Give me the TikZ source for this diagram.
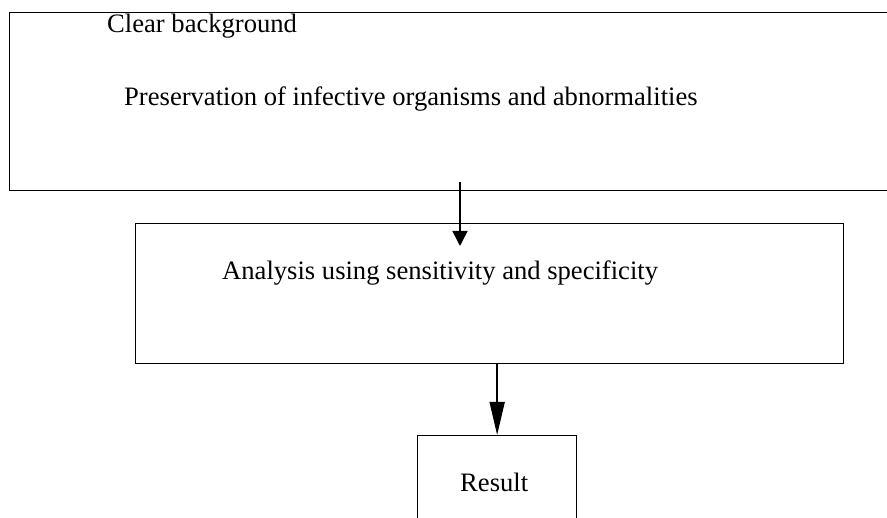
\documentclass[tikz,border=0pt]{standalone}
\usepackage{fontspec}
\setmainfont{Liberation Serif}
\usetikzlibrary{arrows.meta}
\begin{document}
\begin{tikzpicture}[x=1pt,y=1pt,
  box/.style={draw,line width=1.3pt,inner sep=0pt,anchor=north west},
  txt/.style={anchor=base west,inner sep=0pt,font=\fontsize{26.6}{30}\selectfont},
  arr/.style={line width=1.6pt,-{Triangle[length=#1,width=15pt]}}]
\clip (0,0) rectangle (887,-518);
\fill[white] (0,0) rectangle (887,-518);
% boxes
\node[box,minimum width=891,minimum height=178] (b1) at (9,-12) {};
\node[box,minimum width=708,minimum height=140] (b2) at (135,-223) {};
\node[box,minimum width=159,minimum height=100] (b3) at (417,-435) {};
% texts
\node[txt] (t1) at (107,-33) {Clear background};
\node[txt] (t2) at (124,-106) {Preservation of infective organisms and abnormalities};
\node[txt] (t3) at (222,-280) {Analysis using sensitivity and specificity};
\node[txt] (t4) at (460,-492) {Result};
% arrows
\coordinate (a1) at (460,-182);
\coordinate (a2) at (460,-246);
\draw[arr=15pt] (a1) -- (a2);
\draw[arr=33pt] (b3.north |- b2.south) -- (b3.north);
\end{tikzpicture}
\end{document}
